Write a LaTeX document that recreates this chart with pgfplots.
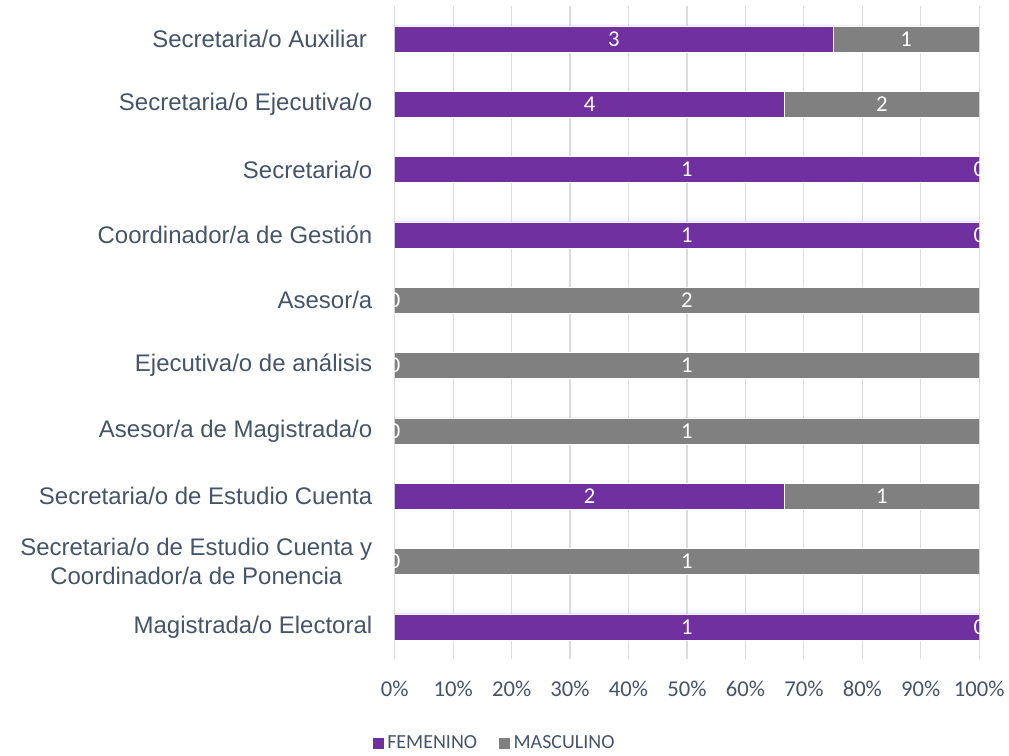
\documentclass[border=0pt]{standalone}
\usepackage{fontspec}
\setmainfont{Liberation Sans}
\newfontfamily\calibri{Carlito}
\usepackage{pgfplots}
\pgfplotsset{compat=1.18}
\usepackage{pgfplotstable}
\definecolor{fem}{HTML}{7030A0}
\definecolor{mas}{HTML}{808080}
\definecolor{txt}{HTML}{44546A}
\definecolor{grd}{HTML}{D9DCE3}
\pgfplotstableread{
y fp mp f m
0 100 0 1 0
1 0 100 0 1
2 66.667 33.333 2 1
3 0 100 0 1
4 0 100 0 1
5 0 100 0 2
6 100 0 1 0
7 100 0 1 0
8 66.667 33.333 4 2
9 75 25 3 1
}\data
% positions of the zero-count labels (at the edge of the empty segment)
\pgfplotstableread{
x y c
0 1 0
0 3 0
0 4 0
0 5 0
100 0 0
100 6 0
100 7 0
}\zeros
\tikzset{lbl/.style={font=\calibri\fontsize{17}{20}\selectfont, text=white, anchor=center}}
\pgfplotsset{
  common/.style={
    at={(296.25pt,71.25pt)}, anchor=south west,
    scale only axis, width=438.75pt, height=490.3pt,
    xmin=0, xmax=100, ymin=-0.5, ymax=9.5,
    clip marker paths=true,
  },
}
\begin{document}
\begin{tikzpicture}
\path (0pt,0pt) rectangle (756.75pt,566.25pt);
\begin{axis}[
  common,
  xbar stacked, bar width=19.5pt,
  xtick={0,10,...,100},
  xticklabels={0\%,10\%,20\%,30\%,40\%,50\%,60\%,70\%,80\%,90\%,100\%},
  xticklabel style={font=\calibri\fontsize{17}{20}\selectfont, text=txt, yshift=-12.5pt},
  ytick={0,...,9},
  yticklabels={Magistrada/o Electoral,
    {Secretaria/o de Estudio Cuenta y\\Coordinador/a de Ponencia},
    Secretaria/o de Estudio Cuenta,
    Asesor/a de Magistrada/o,
    Ejecutiva/o de análisis,
    Asesor/a,
    Coordinador/a de Gestión,
    Secretaria/o,
    Secretaria/o Ejecutiva/o,
    Secretaria/o Auxiliar\hspace*{4pt}},
  yticklabel style={font=\fontsize{18}{21.5}\selectfont, text=txt, align=center, xshift=-13.3pt},
  major tick length=0pt,
  axis line style={draw=none},
  xmajorgrids, grid style={draw=grd, line width=0.9pt},
  legend style={draw=none, fill=none, at={(0.171,-0.1275)}, anchor=center,
    font=\calibri\fontsize{15}{18}\selectfont, text=txt, legend columns=2,
    /tikz/every even column/.append style={column sep=14pt}},
  legend image code/.code={\fill[#1] (0pt,-4.5pt) rectangle (9pt,4.5pt);},
  every node near coord/.append style={lbl},
]
\addplot[fill=fem, draw=white, line width=0.4pt,
  visualization depends on={\thisrow{f} \as \cnt},
  nodes near coords={\pgfmathprintnumber[assume math mode=true]{\cnt}}]
  table[x=fp, y=y] {\data};
\addplot[fill=mas, draw=white, line width=0.4pt,
  visualization depends on={\thisrow{m} \as \cnt},
  nodes near coords={\pgfmathprintnumber[assume math mode=true]{\cnt}}]
  table[x=mp, y=y] {\data};
\legend{FEMENINO, MASCULINO}
\end{axis}
\begin{axis}[common, hide axis, every node near coord/.append style={lbl}]
\addplot[only marks, mark=*, mark size=0pt, mark options={draw=none, fill=none},
  visualization depends on={\thisrow{c} \as \cnt},
  nodes near coords={\pgfmathprintnumber[assume math mode=true]{\cnt}}]
  table[x=x, y=y] {\zeros};
\end{axis}
\end{tikzpicture}
\end{document}
